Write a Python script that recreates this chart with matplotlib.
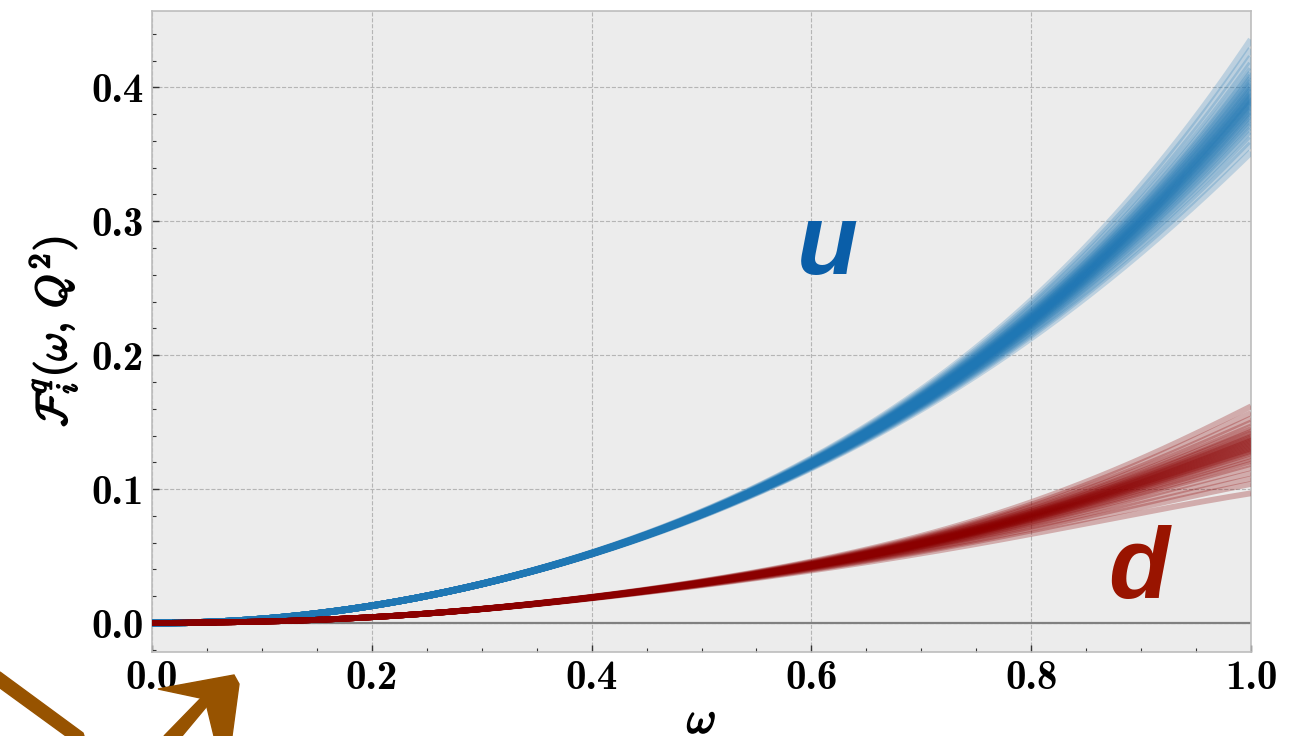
import os
import matplotlib
matplotlib.use("Agg")
import matplotlib.pyplot as plt
import numpy as np
from matplotlib.patches import Polygon
from matplotlib.ticker import MultipleLocator, FuncFormatter
from matplotlib.font_manager import FontProperties
import matplotlib.patheffects as pe

plt.rcParams['mathtext.fontset'] = 'cm'

# ---- data ----
omega = [0.0, 0.05, 0.10, 0.15, 0.20, 0.25, 0.30, 0.35, 0.40, 0.45, 0.50,
         0.55, 0.60, 0.65, 0.70, 0.75, 0.80, 0.85, 0.90, 0.95, 1.00]
u_central = [0.0, 0.0008, 0.0031, 0.0072, 0.0130, 0.0202, 0.0290, 0.0395, 0.0520,
             0.0660, 0.0815, 0.0995, 0.1190, 0.1405, 0.1655, 0.1945, 0.2260,
             0.2610, 0.2990, 0.3415, 0.3900]
d_central = [0.0, 0.0003, 0.0011, 0.0025, 0.0045, 0.0071, 0.0102, 0.0145, 0.0192,
             0.0243, 0.0300, 0.0363, 0.0432, 0.0507, 0.0590, 0.0690, 0.0805,
             0.0925, 0.1050, 0.1190, 0.1340]
# replica end values at omega = 1
u_end = [0.352, 0.358, 0.362, 0.366, 0.369, 0.372, 0.374, 0.376, 0.378, 0.380,
         0.381, 0.383, 0.384, 0.385, 0.387, 0.388, 0.389, 0.390, 0.391, 0.392,
         0.393, 0.394, 0.395, 0.396, 0.398, 0.399, 0.400, 0.402, 0.403, 0.405,
         0.407, 0.409, 0.411, 0.414, 0.418, 0.423, 0.429, 0.436]
d_end = [0.097, 0.104, 0.108, 0.112, 0.116, 0.119, 0.121, 0.123, 0.125, 0.127,
         0.128, 0.129, 0.130, 0.131, 0.132, 0.133, 0.134, 0.135, 0.136, 0.137,
         0.138, 0.139, 0.140, 0.142, 0.143, 0.145, 0.147, 0.150, 0.153, 0.157,
         0.162]
xticks = [0.0, 0.2, 0.4, 0.6, 0.8, 1.0]
yticks = [0.0, 0.1, 0.2, 0.3, 0.4]

W, H = 1307, 736
fig = plt.figure(figsize=(W / 100, H / 100), dpi=100)
ax = fig.add_axes([152 / W, 1 - 652 / H, (1251 - 152) / W, (652 - 11) / H])
ax.set_facecolor('#ececec')

x = np.array(omega)
uc = np.array(u_central)
dc = np.array(d_central)
xf = np.linspace(0, 1, 201)


def smooth(xs, ys):
    c = np.polyfit(xs, ys, 6)
    return np.maximum(np.polyval(c, xf), 0.0)


ucf = smooth(x, uc)
dcf = smooth(x, dc)

for e in u_end:
    r = e / u_central[-1] - 1
    ax.plot(xf, ucf * (1 + r * xf ** 2.5), color='#1f77b4', lw=4.8, alpha=0.23,
            solid_capstyle='butt', zorder=3)
for e in d_end:
    r = e / d_central[-1] - 1
    ax.plot(xf, dcf * (1 + r * xf ** 2.2), color='#8b0000', lw=4.2, alpha=0.27,
            solid_capstyle='butt', zorder=3)

ax.axhline(0, color='#808080', lw=1.6, zorder=2)

ax.set_xlim(0, 1)
ax.set_ylim(-0.0216, 0.457)
ax.set_xticks(xticks)
ax.set_yticks(yticks)
ax.xaxis.set_minor_locator(MultipleLocator(0.05))
ax.yaxis.set_minor_locator(MultipleLocator(0.02))
fmt = FuncFormatter(lambda v, p: '%.1f' % v)
ax.xaxis.set_major_formatter(fmt)
ax.yaxis.set_major_formatter(fmt)
ax.tick_params(which='both', direction='in', top=False, right=False, color='#333333')
ax.tick_params(which='major', length=5, width=1, pad=6)
ax.tick_params(which='minor', length=3, width=0.8)

cmb = os.path.join(matplotlib.get_data_path(), 'fonts', 'ttf', 'cmb10.ttf')
tick_fp = FontProperties(fname=cmb, size=29.5)
for lab in ax.get_xticklabels() + ax.get_yticklabels():
    lab.set_fontproperties(tick_fp)

ax.grid(True, which='major', ls='--', color='#b5b5b5', lw=0.8, zorder=1)
ax.set_axisbelow(True)
for s in ax.spines.values():
    s.set_color('#bdbdbd')
    s.set_linewidth(1.2)

bold = [pe.withStroke(linewidth=1.3, foreground='black')]
xl = ax.set_xlabel(r'$\omega$', fontsize=32, labelpad=1)
yl = ax.set_ylabel(r'$\mathcal{F}_i^q(\omega,\, Q^2)$', fontsize=31, labelpad=8)
xl.set_path_effects(bold)
yl.set_path_effects(bold)

ax.text(0.615, 0.261, 'u', color='#0a5ea8', fontsize=72, fontweight='bold',
        fontstyle='italic', family='Liberation Sans', ha='center', va='baseline', zorder=5)
ax.text(0.898, 0.0187, 'd', color='#991400', fontsize=72, fontweight='bold',
        fontstyle='italic', family='Liberation Sans', ha='center', va='baseline', zorder=5)


# brown hand-drawn arrow decoration (figure pixel coordinates)
def px(pts):
    return [(a / W, 1 - b / H) for a, b in pts]


brown = '#975300'
stroke1 = px([(0, 672), (83, 733), (84, 736), (66, 736), (0, 688)])
shaft = px([(164, 736), (202, 697), (212, 700), (182, 736)])
head = px([(158, 689), (234, 675), (239, 684), (232, 736), (214, 736), (205, 699)])
for poly in (stroke1, shaft, head):
    fig.add_artist(Polygon(poly, closed=True, transform=fig.transFigure,
                           facecolor=brown, edgecolor=brown, lw=1, zorder=10))

fig.savefig('out.png', dpi=100)
